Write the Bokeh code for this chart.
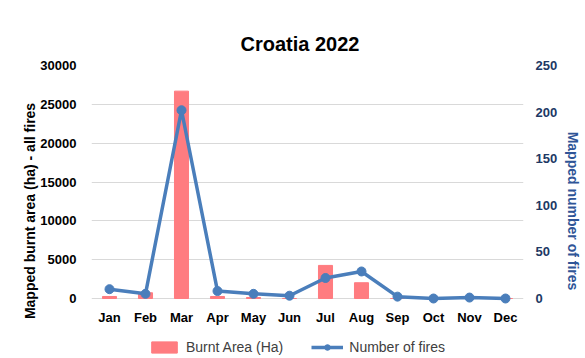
from bokeh.plotting import figure
from bokeh.models import Range1d, LinearAxis, Legend, LegendItem, FactorRange, NumeralTickFormatter, FixedTicker
from bokeh.embed import file_html
from bokeh.resources import INLINE

months = ["Jan", "Feb", "Mar", "Apr", "May", "Jun", "Jul", "Aug", "Sep", "Oct", "Nov", "Dec"]
burnt_area = [260, 740, 26700, 260, 130, 0, 4260, 2030, 0, 0, 0, 0]
num_fires = [10, 5, 202, 8, 5, 3, 22, 29, 2, 0, 1, 0]
area_ticks = [0, 5000, 10000, 15000, 20000, 25000, 30000]
fire_ticks = [0, 50, 100, 150, 200, 250]

FONT = "Liberation Sans"
# frame extends below the zero line to make room for the month labels and legend
BELOW = 58 / 233.0

p = figure(frame_width=432, frame_height=291, x_range=FactorRange(*months),
           y_range=Range1d(-30000 * BELOW, 30000),
           output_backend="svg", toolbar_location=None,
           min_border_left=91, min_border_right=62, min_border_top=65, min_border_bottom=0)
p.outline_line_color = None
p.extra_y_ranges = {"fires": Range1d(-250 * BELOW, 250)}

bars = p.vbar(x=months, top=burnt_area, width=0.39, color="#FF7C80")
line = p.line(x=months, y=num_fires, y_range_name="fires", line_color="#4A7EBB", line_width=3.5)
pts = p.scatter(x=months, y=num_fires, y_range_name="fires", size=9, color="#4A7EBB")

p.title.text = "Croatia 2022"
p.title.align = "left"
p.title.offset = 149
p.title.text_font = FONT
p.title.text_font_size = "20px"
p.title.text_font_style = "bold"
p.title.text_color = "#000000"
p.title.standoff = 21

p.xgrid.grid_line_color = None
p.ygrid.grid_line_color = "#D9D9D9"
p.ygrid.grid_line_width = 1
p.yaxis.ticker = FixedTicker(ticks=area_ticks)

ax = p.yaxis[0]
ax.bounds = (0, 30000)
ax.axis_label = "Mapped burnt area (ha) - all fires"
ax.axis_label_text_font = FONT
ax.axis_label_text_font_size = "14px"
ax.axis_label_text_font_style = "bold"
ax.axis_label_text_color = "#000000"
ax.axis_label_standoff = -1
ax.major_label_text_font = FONT
ax.major_label_text_font_size = "13px"
ax.major_label_text_font_style = "bold"
ax.major_label_text_color = "#000000"
ax.axis_line_color = None
ax.major_tick_line_color = None
ax.minor_tick_line_color = None
ax.major_label_standoff = 9
ax.formatter = NumeralTickFormatter(format="0")

rax = LinearAxis(y_range_name="fires", ticker=FixedTicker(ticks=fire_ticks), bounds=(0, 250))
rax.axis_label = "Mapped number of fires"
rax.axis_label_text_font = FONT
rax.axis_label_text_font_size = "14px"
rax.axis_label_text_font_style = "bold"
rax.axis_label_text_color = "#2F5597"
rax.axis_label_standoff = 5
rax.major_label_text_font = FONT
rax.major_label_text_font_size = "13px"
rax.major_label_text_font_style = "bold"
rax.major_label_text_color = "#203864"
rax.axis_line_color = None
rax.major_tick_line_color = None
rax.minor_tick_line_color = None
rax.major_label_standoff = 6
p.add_layout(rax, "right")

xa = p.xaxis[0]
xa.fixed_location = 0
xa.major_label_text_font = FONT
xa.major_label_text_font_size = "13px"
xa.major_label_text_font_style = "bold"
xa.major_label_text_color = "#000000"
xa.axis_line_color = None
xa.major_tick_line_color = None
xa.minor_tick_line_color = None
xa.major_label_standoff = 5

legend = Legend(items=[LegendItem(label="Burnt Area (Ha)", renderers=[bars]),
                       LegendItem(label="Number of fires", renderers=[line, pts])],
                orientation="horizontal", location=(57, 1),
                label_text_font=FONT, label_text_font_size="14px", label_text_color="#404040",
                border_line_color=None, background_fill_alpha=0,
                margin=0, padding=2, spacing=28, glyph_width=32, glyph_height=14, label_standoff=6)
p.add_layout(legend, "center")

open("out.html", "w").write(file_html(p, INLINE))
